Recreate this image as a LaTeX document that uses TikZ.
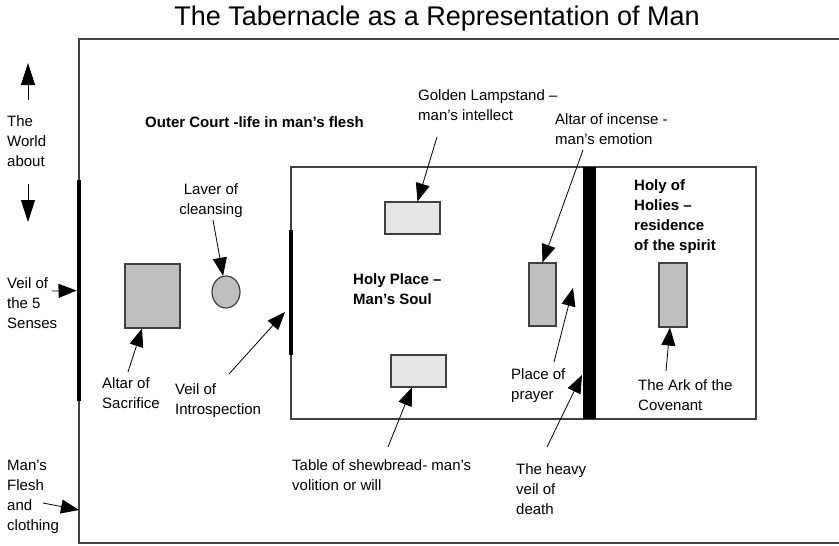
\documentclass[tikz,border=0pt]{standalone}
\usepackage{fontspec}
\setmainfont{Liberation Sans}
\usetikzlibrary{arrows.meta,shapes.geometric}

\begin{document}
\begin{tikzpicture}[x=1pt,y=-1pt,
        lbl/.style={font=\fontsize{15}{20}\selectfont,align=left,anchor=north west,inner sep=0pt},
        bold lbl/.style={lbl,font=\fontsize{15}{20}\selectfont\bfseries},
        piece/.style={draw=black!75,line width=1.2pt,fill=black!25,inner sep=0pt},
        light piece/.style={piece,fill=black!10},
        veil/.style={fill=black,inner sep=0pt,minimum width=4.5pt},
        pointer/.style={line width=0.8pt,-{Triangle[length=18pt,width=14pt]}},
        big tip/.style={-{Triangle[length=22pt,width=14pt]}}]

  \useasboundingbox (0,0) rectangle (839,546);
  \node (title) at (437,25) [anchor=base,inner sep=0pt,font=\fontsize{27}{30}\selectfont] {The Tabernacle as a Representation of Man};

  \draw[black!75,line width=1.5pt] (842,39) -- (79,39) -- (79,543) -- (842,543);
  \draw[black!75,line width=1.2pt] (291,167) rectangle (756,419);

  \node[veil,minimum height=221pt] (outer veil) at (79,290.5) {};
  \node[veil,minimum height=125pt] (inner veil) at (291,292.5) {};
  \node[veil,minimum width=13pt,minimum height=252pt] (heavy veil) at (589.5,293) {};

  \node[piece,minimum width=55pt,minimum height=64pt] (altar) at (152.5,296) {};
  \node[piece,ellipse,minimum width=28pt,minimum height=32pt] (laver) at (226,292) {};
  \node[light piece,minimum width=55pt,minimum height=32pt] (lamp) at (412.5,218) {};
  \node[light piece,minimum width=55pt,minimum height=32pt] (table) at (418.5,371) {};
  \node[piece,minimum width=27pt,minimum height=63pt] (incense) at (542.5,294.5) {};
  \node[piece,minimum width=28pt,minimum height=64pt] (ark) at (673,295) {};

  \node (world) at (7,115) [lbl] {The\\World\\about};
  \node (senses) at (7,277) [lbl] {Veil of\\the 5\\Senses};
  \node (flesh) at (7,460) [lbl] {Man's\\Flesh\\and\\clothing};
  \node (court) at (145,116) [bold lbl] {Outer Court -life in man's flesh};
  \node (laver lbl) at (211,183) [lbl,anchor=north,align=center] {Laver of\\cleansing};
  \node (altar lbl) at (102,377) [lbl] {Altar of\\Sacrifice};
  \node (intro lbl) at (175,383) [lbl] {Veil of\\Introspection};
  \node (lamp lbl) at (418,89) [lbl] {Golden Lampstand --\\man's intellect};
  \node (incense lbl) at (555,113) [lbl] {Altar of incense -\\man's emotion};
  \node (place) at (353,273) [bold lbl] {Holy Place --\\Man's Soul};
  \node (prayer lbl) at (511,368) [lbl] {Place of\\prayer};
  \node (death lbl) at (516,463) [lbl] {The heavy\\veil of\\death};
  \node (table lbl) at (292,459) [lbl] {Table of shewbread- man's\\volition or will};
  \node (holies) at (634,179) [bold lbl] {Holy of\\Holies --\\residence\\of the spirit};
  \node (ark lbl) at (638,379) [lbl] {The Ark of the\\Covenant};

  \coordinate (world up) at (28,100);
  \coordinate (world top) at (28,63);
  \coordinate (world down) at (28,184);
  \coordinate (world bottom) at (28,222);
  \coordinate (senses tail) at (52,291);
  \coordinate (flesh tail) at (43,503);
  \coordinate (flesh tip) at (79,510);
  \coordinate (laver tail) at (213,220);
  \coordinate (altar tail) at (128,372);
  \coordinate (intro tail) at (229,374);
  \coordinate (intro tip) at (285,312);
  \coordinate (lamp tail) at (437,137);
  \coordinate (incense tail) at (583,150);
  \coordinate (prayer tail) at (554,362);
  \coordinate (prayer tip) at (573,288);
  \coordinate (death tail) at (547,447);
  \coordinate (death tip) at (582,375);
  \coordinate (table tail) at (388,447);
  \coordinate (ark tail) at (666,371);

  \draw[pointer,big tip] (world up) -- (world top);
  \draw[pointer,big tip] (world down) -- (world bottom);
  \draw[pointer] (senses tail) -- (outer veil);
  \draw[pointer] (flesh tail) -- (flesh tip);
  \draw[pointer] (laver tail) -- (laver);
  \draw[pointer] (altar tail) -- (altar);
  \draw[pointer] (intro tail) -- (intro tip);
  \draw[pointer] (lamp tail) -- (lamp);
  \draw[pointer] (incense tail) -- (incense.north);
  \draw[pointer] (prayer tail) -- (prayer tip);
  \draw[pointer] (death tail) -- (death tip);
  \draw[pointer] (table tail) -- (table);
  \draw[pointer] (ark tail) -- (ark);
\end{tikzpicture}
\end{document}
